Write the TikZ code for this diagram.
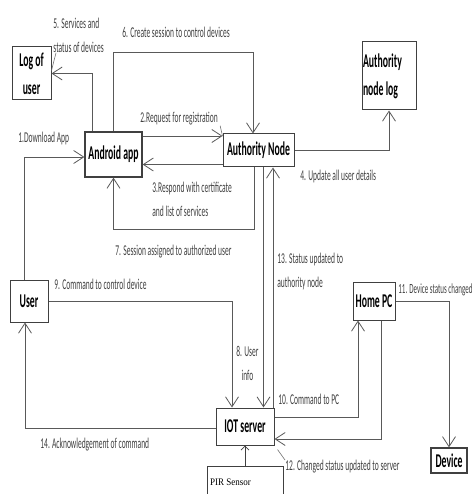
\documentclass[tikz,border=0pt]{standalone}
\usepackage{fontspec}
\setmainfont{Carlito}[FakeStretch=0.5]
\newfontfamily\pirfont{Liberation Serif}[FakeStretch=0.9]
\usetikzlibrary{arrows.meta}

\begin{document}
\begin{tikzpicture}[x=1pt, y=-1pt, line width=0.8pt,
  box/.style={draw=black!75, line width=1pt, inner sep=0pt, align=center,
    font=\fontsize{19.5}{28}\selectfont\bfseries},
  lbl/.style={anchor=north west, inner sep=0pt, align=left, text=black!75,
    font=\fontsize{15}{23.5}\selectfont},
  arr/.style={draw=black!65, -{Straight Barb[length=10pt,width=13pt]}},
  callout/.style={draw=black!55, line width=0.6pt}]

  %% ==== boxes ====
  \node[box, minimum width=39, minimum height=53] (log) at (31.5,73.5) {Log of\\user};
  \node[box, minimum width=57, minimum height=45, line width=1.3pt] (app) at (113.5,154.5) {Android app};
  \node[box, minimum width=71, minimum height=33] (auth) at (258.5,150.5) {Authority Node};
  \node[box, minimum width=54, minimum height=68, text width=52, align=flush left] (alog) at (389,76) {Authority\\node log};
  \node[box, minimum width=38, minimum height=42] (user) at (29,301) {User};
  \node[box, minimum width=42, minimum height=38] (pc) at (374,301) {Home PC};
  \node[box, minimum width=58, minimum height=37] (iot) at (245,426.5) {IOT server};
  \node[box, minimum width=36, minimum height=25, line width=1.3pt] (dev) at (449,460.5) {Device};
  \node[box, anchor=north, inner ysep=12pt, text width=70, inner xsep=3pt, align=flush left,
        font=\pirfont\fontsize{10}{12}\selectfont] (pir) at (245,466) {PIR Sensor};

  %% ==== connectors ====
  \coordinate (r2) at ([yshift=18.5pt]app.east);
  \coordinate (r3) at ([yshift=-10pt]app.east);
  \coordinate (r8) at ([xshift=5pt]auth.south);
  \coordinate (r13) at ([xshift=28pt]iot.north);

  \draw[arr] ([xshift=-5pt]user.north) |- ([yshift=-2.5pt]app.west);      % 1
  \draw[arr] (r2) -- (r2 -| auth.west);                                   % 2
  \draw[arr] (r3 -| auth.west) -- (r3);                                   % 3
  \draw[arr] (auth.east) -| (alog.south);                                 % 4
  \draw[arr] ([xshift=-21.5pt]app.north) |- (log.east);                   % 5
  \draw[arr] (app.north) -- ++(0,-79) -| ([xshift=-5.5pt]auth.north);     % 6
  \draw[arr] ([xshift=-4.5pt]auth.south) |- ([yshift=-52pt]app.south) -- (app.south); % 7
  \draw[arr] (r8) -- (r8 |- iot.north);                                   % 8
  \draw[arr] (user.east) -| ([xshift=-13pt]iot.north);                    % 9
  \draw[arr] ([yshift=9.5pt]iot.east) -| ([xshift=-16pt]pc.south);        % 10
  \draw[arr] (pc.east) -| (dev.north);                                    % 11
  \draw[arr] ([xshift=7pt]pc.south) |- ([yshift=-12.5pt]iot.east);        % 12
  \draw[arr] (r13) -- (r13 |- auth.south);                                % 13
  \draw[arr] ([yshift=-1.5pt]iot.west) -| ([xshift=-4pt]user.south);      % 14
  \draw[draw=black!75, -{Straight Barb[length=4pt,width=8pt]}] (pir.north) -- (iot.south);

  %% ==== labels ====
  \node[lbl] (l1) at (18,132) {1.Download App};
  \node[lbl] (l2) at (140,112) {2.Request for registration};
  \node[lbl] (l3) at (152,182) {3.Respond with certificate\\and list of services};
  \node[lbl] (l4) at (300,170) {4. Update all user details};
  \node[lbl] (l5) at (53,18) {5. Services and\\status of devices};
  \node[lbl] (l6) at (122,27) {6. Create session to control devices};
  \node[lbl] (l7) at (115,245) {7. Session assigned to authorized user};
  \node[lbl, align=center] (l8) at (236,346) {8. User\\info};
  \node[lbl] (l9) at (54,279) {9. Command to control device};
  \node[lbl] (l10) at (278,394) {10. Command to PC};
  \node[lbl, font=\fontsize{14}{20}\selectfont] (l11) at (398,283) {11. Device status changed};
  \node[lbl] (l12) at (285,460) {12. Changed status updated to server};
  \node[lbl] (l13) at (277,253) {13. Status updated to\\authority node};
  \node[lbl] (l14) at (40,438) {14. Acknowledgement of command};

  %% callout ticks from labels
  \draw[callout] ([xshift=2pt]l2.south east) -- (r2 -| auth.west);
  \draw[callout] ([xshift=3pt]l5.south west) -- ([yshift=3pt]log.east);
  \draw[callout] (l12.north west) -- ([xshift=3pt,yshift=-4pt]iot.south east);

  %% fix the canvas
  \pgfresetboundingbox
  \path[use as bounding box] (0,0) rectangle (475,494);
\end{tikzpicture}
\end{document}
